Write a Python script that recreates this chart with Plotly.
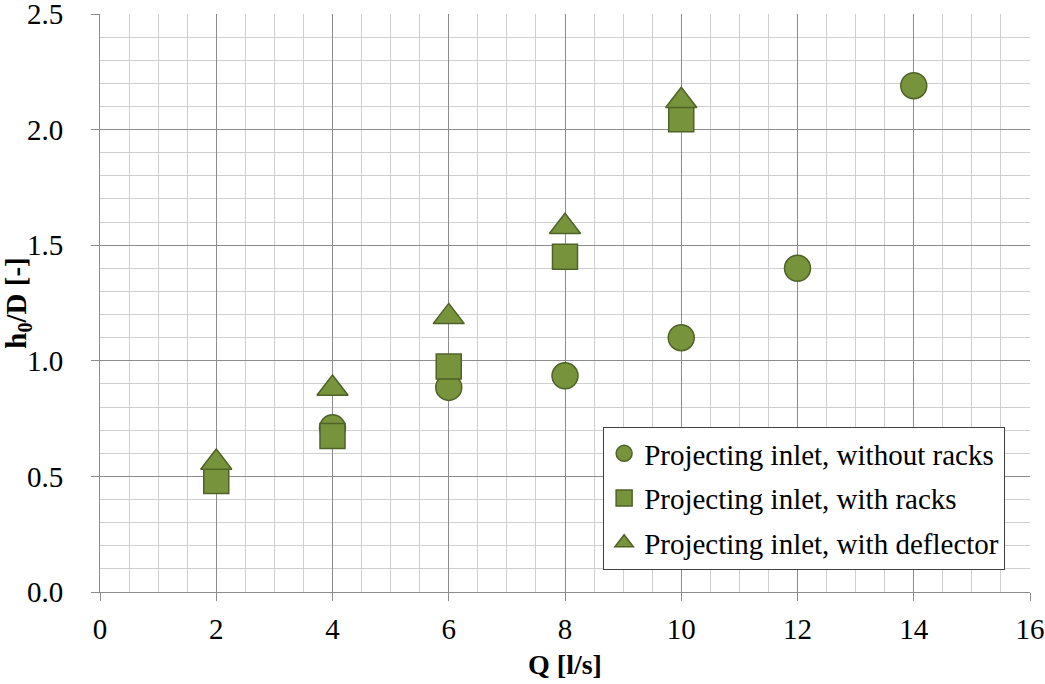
import plotly.graph_objects as go

# Data
q_without = [4, 6, 8, 10, 12, 14]
h_without = [0.71, 0.885, 0.935, 1.10, 1.40, 2.19]

q_racks = [2, 4, 6, 8, 10]
h_racks = [0.48, 0.675, 0.975, 1.45, 2.045]

q_deflector = [2, 4, 6, 8, 10]
h_deflector = [0.56, 0.88, 1.19, 1.58, 2.125]

names = ["Projecting inlet, without racks",
         "Projecting inlet, with racks",
         "Projecting inlet, with deflector"]

x_ticks = [0, 2, 4, 6, 8, 10, 12, 14, 16]
y_ticks = [0.0, 0.5, 1.0, 1.5, 2.0, 2.5]

FILL = "#77933C"
EDGE = "#4F6228"
FONT = "Liberation Serif, Times New Roman, serif"

fig = go.Figure()
series = [(q_without, h_without, "circle", 26, names[0]),
          (q_racks, h_racks, "square", 25, names[1]),
          (q_deflector, h_deflector, "triangle-up", 27, names[2])]
for i, (xs, ys, sym, size, nm) in enumerate(series):
    fig.add_trace(go.Scatter(
        x=xs, y=ys, mode="markers", name=nm, legendgroup=f"g{i}",
        marker=dict(symbol=sym, size=size, color=FILL,
                    line=dict(color=EDGE, width=1.5)),
    ))

grid_major = "#8C8C8C"
grid_minor = "#CFCFCF"

fig.update_xaxes(
    range=[0, 16], tickvals=x_ticks, ticktext=[str(v) for v in x_ticks],
    showgrid=True, gridcolor=grid_major, gridwidth=1,
    minor=dict(dtick=0.5, tick0=0, showgrid=True, gridcolor=grid_minor, gridwidth=1),
    showline=True, linecolor=grid_major, linewidth=1,
    ticks="outside", ticklen=8, tickcolor=grid_major,
    zeroline=False, automargin=False, ticklabelstandoff=3,
    ticklabeloverflow="allow",
    tickfont=dict(family=FONT, size=29, color="#000000"),
    title=dict(text="<b>Q [l/s]</b>", font=dict(family=FONT, size=28, color="#000000"),
               standoff=10),
)
fig.update_yaxes(
    range=[0, 2.5], tickvals=y_ticks, ticktext=[f"{v:.1f}" for v in y_ticks],
    showgrid=True, gridcolor=grid_major, gridwidth=1,
    minor=dict(dtick=0.1, tick0=0, showgrid=True, gridcolor=grid_minor, gridwidth=1),
    showline=True, linecolor=grid_major, linewidth=1,
    ticks="outside", ticklen=8, tickcolor=grid_major,
    zeroline=False, ticklabelstandoff=22, automargin=False,
    ticklabeloverflow="allow",
    tickfont=dict(family=FONT, size=29, color="#000000"),
    title=dict(text="<b>h<sub>0</sub>/D [-]</b>", font=dict(family=FONT, size=29, color="#000000"),
               standoff=2),
)

fig.update_layout(
    width=1045, height=684,
    margin=dict(l=100, r=15, t=14, b=92),
    plot_bgcolor="#FFFFFF", paper_bgcolor="#FFFFFF",
    showlegend=True,
    legend=dict(
        x=0.541, y=0.2855, xanchor="left", yanchor="top",
        bgcolor="#FFFFFF", bordercolor="#404040", borderwidth=1,
        font=dict(family=FONT, size=29, color="#000000"),
        traceorder="grouped", tracegroupgap=4,
        itemsizing="trace", itemwidth=30,
    ),
)

fig.write_html("out.html", config={"displayModeBar": False},
               post_script="document.body.style.margin='0';")
